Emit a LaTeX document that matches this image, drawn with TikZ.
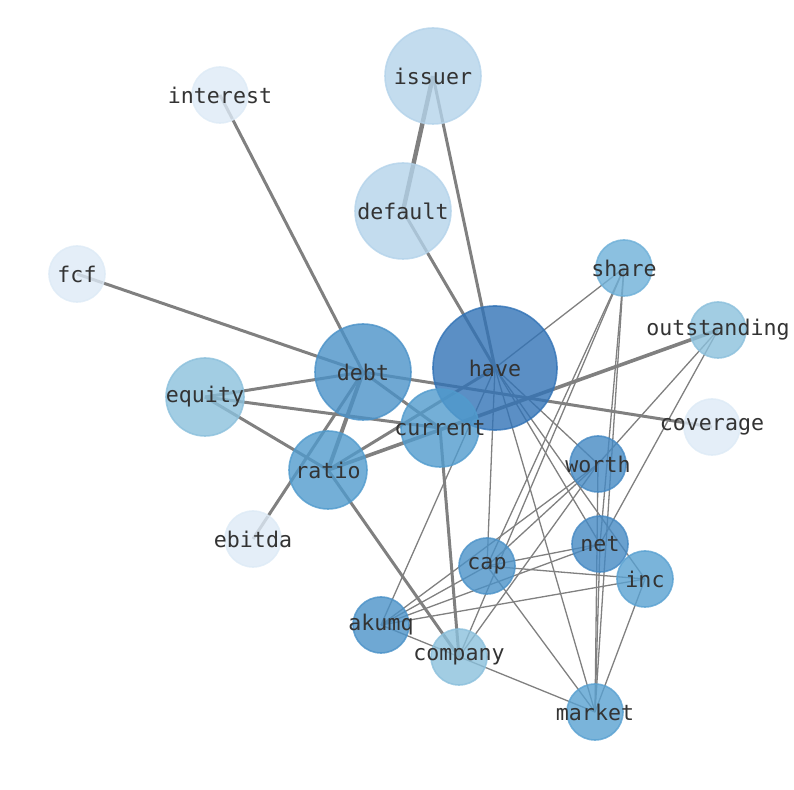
\documentclass[tikz,border=0pt]{standalone}
\usepackage{xcolor}
\usepackage{fontspec}
\setmonofont{DejaVu Sans Mono}
\definecolor{bl9}{HTML}{3273B6}
\definecolor{bl8}{HTML}{4589C3}
\definecolor{bl7}{HTML}{4B92C8}
\definecolor{bl6}{HTML}{519BCD}
\definecolor{bl5}{HTML}{59A1D1}
\definecolor{bl4}{HTML}{6EB0D8}
\definecolor{bl3}{HTML}{8BC0DC}
\definecolor{bl2}{HTML}{B4D3EA}
\definecolor{bl1}{HTML}{DDEAF6}
\definecolor{edg}{HTML}{808080}
\definecolor{lbl}{HTML}{333333}
\usepackage{tikz}
\usetikzlibrary{backgrounds}
\usetikzlibrary{positioning}

\begin{document}
\begin{tikzpicture}[x=0.5pt,y=-0.5pt,
    vtx/.style={circle,inner sep=0pt,line width=0.8pt,fill opacity=0.8,draw opacity=0.8},
    word/.style={text=lbl,font=\fontsize{10.8}{12}\selectfont\ttfamily,inner sep=0pt},
    thin/.style={edg,line width=0.65pt},
    thick/.style={edg,line width=1.5pt}]
  \useasboundingbox (0,0) rectangle (794,790);

  % word nodes
  \node[vtx,fill=bl2,draw=bl2,minimum size=48pt](issuer) at (433,76) {};
  \node[vtx,fill=bl1,draw=bl1,minimum size=28pt](interest) at (220,95) {};
  \node[vtx,fill=bl2,draw=bl2,minimum size=48pt](default) at (403,211) {};
  \node[vtx,fill=bl1,draw=bl1,minimum size=28pt](fcf) at (77,274) {};
  \node[vtx,fill=bl4,draw=bl4,minimum size=28pt](share) at (624,268) {};
  \node[vtx,fill=bl3,draw=bl3,minimum size=28pt](outstanding) at (718,330) {};
  \node[vtx,fill=bl7,draw=bl7,minimum size=48pt](debt) at (363,372) {};
  \node[vtx,fill=bl9,draw=bl9,minimum size=62pt](have) at (495,368) {};
  \node[vtx,fill=bl3,draw=bl3,minimum size=39pt](equity) at (205,397) {};
  \node[vtx,fill=bl1,draw=bl1,minimum size=28pt](coverage) at (712,427) {};
  \node[vtx,fill=bl6,draw=bl6,minimum size=39pt](current) at (440,428) {};
  \node[vtx,fill=bl8,draw=bl8,minimum size=28pt](worth) at (598,464) {};
  \node[vtx,fill=bl6,draw=bl6,minimum size=39pt](ratio) at (328,470) {};
  \node[vtx,fill=bl1,draw=bl1,minimum size=28pt](ebitda) at (253,539) {};
  \node[vtx,fill=bl8,draw=bl8,minimum size=28pt](net) at (600,544) {};
  \node[vtx,fill=bl7,draw=bl7,minimum size=28pt](cap) at (487,566) {};
  \node[vtx,fill=bl5,draw=bl5,minimum size=28pt](inc) at (645,579) {};
  \node[vtx,fill=bl7,draw=bl7,minimum size=28pt](akumq) at (381,625) {};
  \node[vtx,fill=bl3,draw=bl3,minimum size=28pt](company) at (459,657) {};
  \node[vtx,fill=bl5,draw=bl5,minimum size=28pt](market) at (595,712) {};

  % edges go under the discs
  \begin{scope}[on background layer]
    \draw[thick] (interest.center) -- (debt.center);
    \draw[thick] (fcf.center) -- (debt.center);
    \draw[thick] (issuer.center) -- (have.center);
    \draw[thick] (default.center) -- (have.center);
    \draw[edg,line width=2.2pt] (issuer.center) -- (default.center);
    \draw[thick] (debt.center) -- (equity.center);
    \draw[thick] (equity.center) -- (current.center);
    \draw[thick] (equity.center) -- (ratio.center);
    \draw[thick] (debt.center) -- (ebitda.center);
    \draw[thick] (debt.center) -- (current.center);
    \draw[thick] (debt.center) -- (coverage.center);
    \draw[edg,line width=2pt] (debt.center) -- (ratio.center);
    \draw[thick] (ratio.center) -- (company.center);
    \draw[thick] (current.center) -- (company.center);
    \draw[thick] (ratio.center) -- (have.center);
    \draw[edg,line width=1.8pt] (ratio.center) -- (outstanding.center);
    \draw[thin] (have.center) -- (share.center);
    \draw[thin] (have.center) -- (worth.center);
    \draw[thin] (have.center) -- (net.center);
    \draw[thin] (have.center) -- (inc.center);
    \draw[thin] (have.center) -- (market.center);
    \draw[thin] (have.center) -- (cap.center);
    \draw[thin] (have.center) -- (akumq.center);
    \draw[thin] (share.center) -- (net.center);
    \draw[thin] (share.center) -- (market.center);
    \draw[thin] (share.center) -- (cap.center);
    \draw[thin] (share.center) -- (company.center);
    \draw[thin] (outstanding.center) -- (worth.center);
    \draw[thin] (outstanding.center) -- (net.center);
    \draw[thin] (worth.center) -- (cap.center);
    \draw[thin] (worth.center) -- (akumq.center);
    \draw[thin] (worth.center) -- (company.center);
    \draw[thin] (worth.center) -- (market.center);
    \draw[thin] (net.center) -- (cap.center);
    \draw[thin] (net.center) -- (akumq.center);
    \draw[thin] (net.center) -- (market.center);
    \draw[thin] (cap.center) -- (inc.center);
    \draw[thin] (cap.center) -- (akumq.center);
    \draw[thin] (cap.center) -- (market.center);
    \draw[thin] (inc.center) -- (akumq.center);
    \draw[thin] (inc.center) -- (market.center);
    \draw[thin] (akumq.center) -- (market.center);
  \end{scope}

  % labels on top of everything
  \node[word](issuer-t) at (issuer) {issuer};
  \node[word](interest-t) at (interest) {interest};
  \node[word](default-t) at (default) {default};
  \node[word](fcf-t) at (fcf) {fcf};
  \node[word](share-t) at (share) {share};
  \node[word](outstanding-t) at (outstanding) {outstanding};
  \node[word](debt-t) at (debt) {debt};
  \node[word](have-t) at (have) {have};
  \node[word](equity-t) at (equity) {equity};
  \node[word](coverage-t) at (coverage) {coverage};
  \node[word](current-t) at (current) {current};
  \node[word](worth-t) at (worth) {worth};
  \node[word](ratio-t) at (ratio) {ratio};
  \node[word](ebitda-t) at (ebitda) {ebitda};
  \node[word](net-t) at (net) {net};
  \node[word](cap-t) at (cap) {cap};
  \node[word](inc-t) at (inc) {inc};
  \node[word](akumq-t) at (akumq) {akumq};
  \node[word](company-t) at (company) {company};
  \node[word](market-t) at (market) {market};
\end{tikzpicture}
\end{document}
